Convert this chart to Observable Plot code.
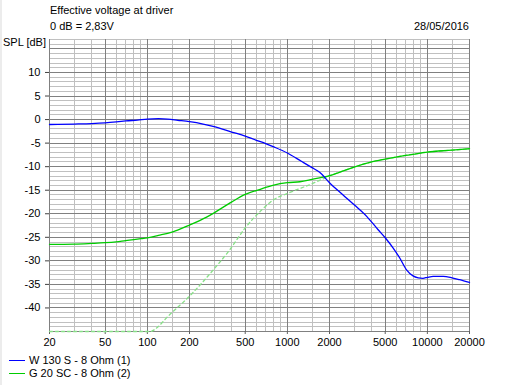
<!DOCTYPE html>
<html>
<head>
<meta charset="utf-8">
<script src="https://cdn.jsdelivr.net/npm/d3@7"></script>
<script src="https://cdn.jsdelivr.net/npm/@observablehq/plot@0.6"></script>
<style>
  html, body { margin: 0; padding: 0; background: white; }
  #wrap { position: relative; width: 513px; height: 385px; overflow: hidden;
          font-family: "Liberation Sans", Arial, sans-serif; font-size: 11px; color: #000; }
  .t { position: absolute; white-space: nowrap; line-height: 13px; }
  .sw { position: absolute; height: 0; border-top: 1px solid; width: 16px; }
  #edge { position: absolute; left: 0; top: 0; width: 2px; height: 385px; background: #ececec; }
</style>
</head>
<body>
<div id="wrap">
  <div id="chart"></div>
  <div id="edge"></div>
  <div class="t" style="left:50px; top:4px;">Effective voltage at driver</div>
  <div class="t" style="left:50px; top:20px;">0 dB = 2,83V</div>
  <div class="t" style="right:44px; top:20px;">28/05/2016</div>
  <div class="t" style="left:3px; top:36px;">SPL [dB]</div>
  <div class="sw" style="left:9px; top:360px; border-color:#0000ff;"></div>
  <div class="t" style="left:29px; top:354px;">W 130 S - 8 Ohm (1)</div>
  <div class="sw" style="left:9px; top:373px; border-color:#00cc00;"></div>
  <div class="t" style="left:29px; top:367px;">G 20 SC - 8 Ohm (2)</div>
</div>
<script>
// Tick labels / grid
const xMajor = [20, 50, 100, 200, 500, 1000, 2000, 5000, 10000, 20000];
const xMinor = [30, 40, 60, 70, 80, 90, 150, 300, 400, 600, 700, 800, 900, 1500, 3000, 4000, 6000, 7000, 8000, 9000, 15000];
const yLabels = [10, 5, 0, -5, -10, -15, -20, -25, -30, -35, -40];
const yGrid = d3.range(-45, 18);

// Series 1: W 130 S - 8 Ohm (blue)
const blueFreq = [20, 30, 40, 50, 60, 70, 85, 100, 120, 140, 165, 200, 250, 300, 400, 500, 600, 700, 800, 1000, 1250, 1500, 1700, 2000, 2500, 3000, 3700, 4450, 5000, 5700, 6350, 7100, 7900, 8600, 9300, 10000, 11000, 13000, 15000, 17000, 20000];
const blueDb   = [-1.05, -0.95, -0.85, -0.7, -0.5, -0.3, -0.1, 0.1, 0.2, 0.1, -0.15, -0.45, -0.95, -1.5, -2.65, -3.5, -4.4, -5.1, -5.8, -7.1, -8.8, -10.2, -11.2, -13.4, -16.0, -18.1, -20.6, -23.4, -25.1, -27.3, -29.4, -31.9, -33.2, -33.6, -33.7, -33.5, -33.3, -33.3, -33.6, -34.0, -34.6];

// Series 2: G 20 SC - 8 Ohm (green)
const greenFreq = [20, 30, 40, 50, 60, 70, 80, 90, 100, 120, 150, 200, 265, 300, 390, 500, 640, 800, 1000, 1230, 1500, 2000, 2350, 3000, 4000, 5000, 7000, 9000, 10000, 15000, 20000];
const greenDb   = [-26.5, -26.45, -26.3, -26.15, -25.95, -25.7, -25.5, -25.3, -25.1, -24.6, -23.9, -22.4, -20.7, -19.8, -17.7, -15.9, -14.8, -13.9, -13.4, -13.2, -12.7, -11.9, -11.2, -10.1, -9.0, -8.4, -7.6, -7.1, -6.9, -6.5, -6.2];

// Series 2 (filtered, dashed light green)
const dashFreq = [20, 105, 117, 137, 200, 312, 380, 500, 640, 800, 1000, 1236, 1456, 1700, 1900, 2100, 2350, 3000, 4000, 5000, 7000, 9000, 10000, 15000, 20000];
const dashDb   = [-45, -45, -44.2, -42.1, -37.5, -31.1, -28.0, -23.0, -19.5, -17.0, -15.7, -14.6, -13.8, -12.9, -12.3, -11.7, -11.2, -10.1, -9.0, -8.4, -7.6, -7.1, -6.9, -6.5, -6.2];

const toRows = (fs, vs) => fs.map((f, i) => ({f, v: vs[i]}));
const blue = toRows(blueFreq, blueDb);
const green = toRows(greenFreq, greenDb);
const dash = toRows(dashFreq, dashDb);

const chart = Plot.plot({
  width: 513,
  height: 385,
  marginLeft: 49,
  marginRight: 44,
  marginTop: 39,
  marginBottom: 54,
  x: {type: "log", domain: [20, 20000]},
  y: {domain: [-45, 17]},
  style: {fontFamily: "'Liberation Sans', Arial, sans-serif", fontSize: "11px", color: "#000", background: "transparent", overflow: "visible"},
  marks: [
    Plot.ruleX(xMinor, {stroke: "#c0c0c0", strokeWidth: 1, shapeRendering: "crispEdges"}),
    Plot.ruleY(yGrid.filter(d => d % 5 !== 0), {stroke: "#c0c0c0", strokeWidth: 1, shapeRendering: "crispEdges"}),
    Plot.ruleX(xMajor, {stroke: "#808080", strokeWidth: 1, shapeRendering: "crispEdges"}),
    Plot.ruleY(yGrid.filter(d => d % 5 === 0), {stroke: "#808080", strokeWidth: 1, shapeRendering: "crispEdges"}),
    Plot.axisX({ticks: xMajor, tickFormat: () => "", tickSize: 3, stroke: "#606060", label: null}),
    Plot.text(xMajor, {x: d => d, frameAnchor: "bottom", text: d => String(d), lineAnchor: "top", dy: 7, fill: "#000"}),
    Plot.axisY({ticks: yLabels, tickFormat: d => String(d), tickSize: 4, tickPadding: 5, stroke: "#404040", label: null, fill: "#000"}),
    Plot.line(dash, {x: "f", y: "v", stroke: "#88e088", strokeWidth: 1.3, strokeDasharray: "3,3", curve: "monotone-x"}),
    Plot.line(green, {x: "f", y: "v", stroke: "#00cc00", strokeWidth: 1.3, curve: "monotone-x"}),
    Plot.line(blue, {x: "f", y: "v", stroke: "#0000ff", strokeWidth: 1.3, curve: "monotone-x"})
  ]
});
document.getElementById("chart").appendChild(chart);
</script>
</body>
</html>
